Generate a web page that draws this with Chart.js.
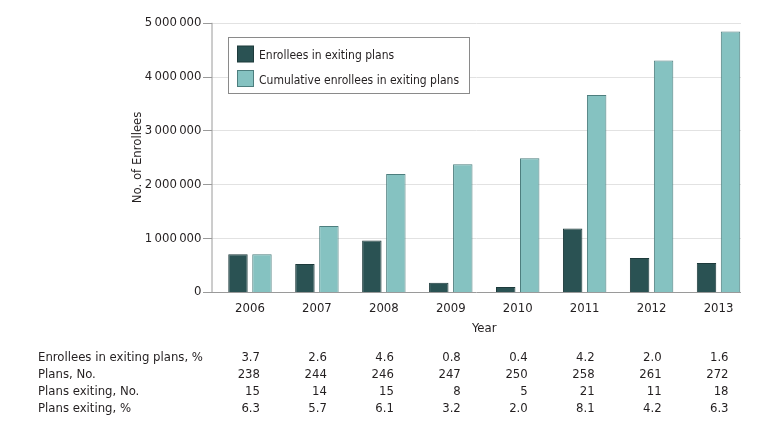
<!DOCTYPE html>
<html>
<head>
<meta charset="utf-8">
<title>Enrollees in exiting plans</title>
<script src="https://cdn.jsdelivr.net/npm/chart.js@4.4.0/dist/chart.umd.min.js"></script>
<style>
  html, body { margin: 0; padding: 0; background: #fff; }
</style>
</head>
<body>
<canvas id="chart" width="780" height="427"></canvas>
<script>
const years = ['2006', '2007', '2008', '2009', '2010', '2011', '2012', '2013'];
const exitingEnrollees = [700000, 520000, 955000, 170000, 95000, 1180000, 630000, 540000];
const cumulativeEnrollees = [700000, 1225000, 2190000, 2375000, 2485000, 3660000, 4300000, 4840000];

const tableLabels = ['Enrollees in exiting plans, %', 'Plans, No.', 'Plans exiting, No.', 'Plans exiting, %'];
const pctEnrolleesExiting = ['3.7', '2.6', '4.6', '0.8', '0.4', '4.2', '2.0', '1.6'];
const plansTotal = ['238', '244', '246', '247', '250', '258', '261', '272'];
const plansExiting = ['15', '14', '15', '8', '5', '21', '11', '18'];
const pctPlansExiting = ['6.3', '5.7', '6.1', '3.2', '2.0', '8.1', '4.2', '6.3'];
const tableRows = [pctEnrolleesExiting, plansTotal, plansExiting, pctPlansExiting];

const FONT = '"DejaVu Sans Condensed", "Liberation Sans Narrow", sans-serif';
const TEXT = '#231f20';
const DARK = '#2a5253';
const LIGHT = '#85c2c1';

const fmt = (v) => String(v).replace(/\B(?=(\d{3})+(?!\d))/g, '\u2009');

// axis frame, gridlines and tick marks (the frame is a bit wider than the bar area)
const framePlugin = {
  id: 'frame',
  beforeDatasetsDraw(chart) {
    const { ctx, chartArea, scales } = chart;
    const left = chartArea.left - 4.5, right = chartArea.right - 11;
    ctx.save();
    ctx.lineWidth = 1;
    scales.y.ticks.forEach(t => {
      const y = Math.round(scales.y.getPixelForValue(t.value)) + 0.5;
      if (t.value > 0) {
        ctx.strokeStyle = '#e2e2e2';
        ctx.beginPath(); ctx.moveTo(left, y); ctx.lineTo(right, y); ctx.stroke();
      }
      ctx.strokeStyle = '#9a9a9a';
      ctx.beginPath(); ctx.moveTo(left - 9, y); ctx.lineTo(left, y); ctx.stroke();
    });
    ctx.restore();
  },
  afterDatasetsDraw(chart) {
    const { ctx, chartArea, scales } = chart;
    const left = chartArea.left - 4.5, right = chartArea.right - 11;
    const y0 = Math.round(scales.y.getPixelForValue(0)) + 0.5;
    const yTop = scales.y.getPixelForValue(5000000);
    ctx.save();
    ctx.strokeStyle = '#9a9a9a';
    ctx.lineWidth = 1;
    ctx.beginPath(); ctx.moveTo(left, yTop); ctx.lineTo(left, y0); ctx.lineTo(right, y0); ctx.stroke();
    ctx.restore();
  }
};

// boxed legend in the top left of the plot
const legendPlugin = {
  id: 'boxLegend',
  afterDraw(chart) {
    const { ctx } = chart;
    ctx.save();
    ctx.strokeStyle = '#8a8a8a';
    ctx.lineWidth = 1;
    ctx.fillStyle = '#fff';
    ctx.fillRect(228.5, 37.5, 241, 56);
    ctx.strokeRect(228.5, 37.5, 241, 56);
    ctx.font = '12px ' + FONT;
    ctx.textBaseline = 'alphabetic';
    chart.data.datasets.forEach((ds, i) => {
      const y = 46 + i * 24.5;
      ctx.fillStyle = ds.backgroundColor;
      ctx.fillRect(237.5, y, 16, 16);
      ctx.strokeStyle = ds.borderColor;
      ctx.strokeRect(237.5, y, 16, 16);
      ctx.fillStyle = TEXT;
      ctx.fillText(ds.label, 259, 58.5 + i * 25);
    });
    ctx.restore();
  }
};

// data table under the x axis, columns lined up with the year categories
const tablePlugin = {
  id: 'table',
  afterDraw(chart) {
    const { ctx, scales } = chart;
    ctx.save();
    ctx.font = '13px ' + FONT;
    ctx.fillStyle = TEXT;
    ctx.textBaseline = 'alphabetic';
    tableRows.forEach((row, r) => {
      const y = 360.5 + r * 17;
      ctx.textAlign = 'left';
      ctx.fillText(tableLabels[r], 38, y);
      ctx.textAlign = 'right';
      row.forEach((v, i) => ctx.fillText(v, scales.x.getPixelForValue(i) + 10, y));
    });
    ctx.restore();
  }
};

new Chart(document.getElementById('chart'), {
  type: 'bar',
  data: {
    labels: years,
    datasets: [
      {
        label: 'Enrollees in exiting plans',
        data: exitingEnrollees,
        backgroundColor: DARK,
        borderColor: '#1d3a3b',
        borderWidth: 1
      },
      {
        label: 'Cumulative enrollees in exiting plans',
        data: cumulativeEnrollees,
        backgroundColor: LIGHT,
        borderColor: '#4d7e7e',
        borderWidth: 1
      }
    ]
  },
  options: {
    responsive: false,
    animation: false,
    layout: { padding: { left: 126, right: 28, top: 17, bottom: 90 } },
    datasets: { bar: { categoryPercentage: 0.717, barPercentage: 0.81 } },
    plugins: { legend: { display: false }, tooltip: { enabled: false } },
    scales: {
      x: {
        offset: true,
        grid: { display: false, drawTicks: false },
        border: { display: false },
        ticks: { color: TEXT, font: { family: FONT, size: 13 }, padding: 9, maxRotation: 0 },
        title: { display: true, text: 'Year', color: TEXT, font: { family: FONT, size: 13 }, padding: { top: 4, bottom: 1 } },
        afterFit: (scale) => { scale.height = 45; }
      },
      y: {
        min: 0,
        max: 5000000,
        grid: { display: false, drawTicks: false },
        border: { display: false },
        ticks: { stepSize: 1000000, color: TEXT, font: { family: FONT, size: 13 }, padding: 15, callback: (v) => fmt(v) },
        title: { display: true, text: 'No. of Enrollees', color: TEXT, font: { family: FONT, size: 13 }, padding: { top: 4, bottom: 4 } },
        afterFit: (scale) => { scale.width = 90.5; }
      }
    }
  },
  plugins: [framePlugin, legendPlugin, tablePlugin]
});
</script>
</body>
</html>
